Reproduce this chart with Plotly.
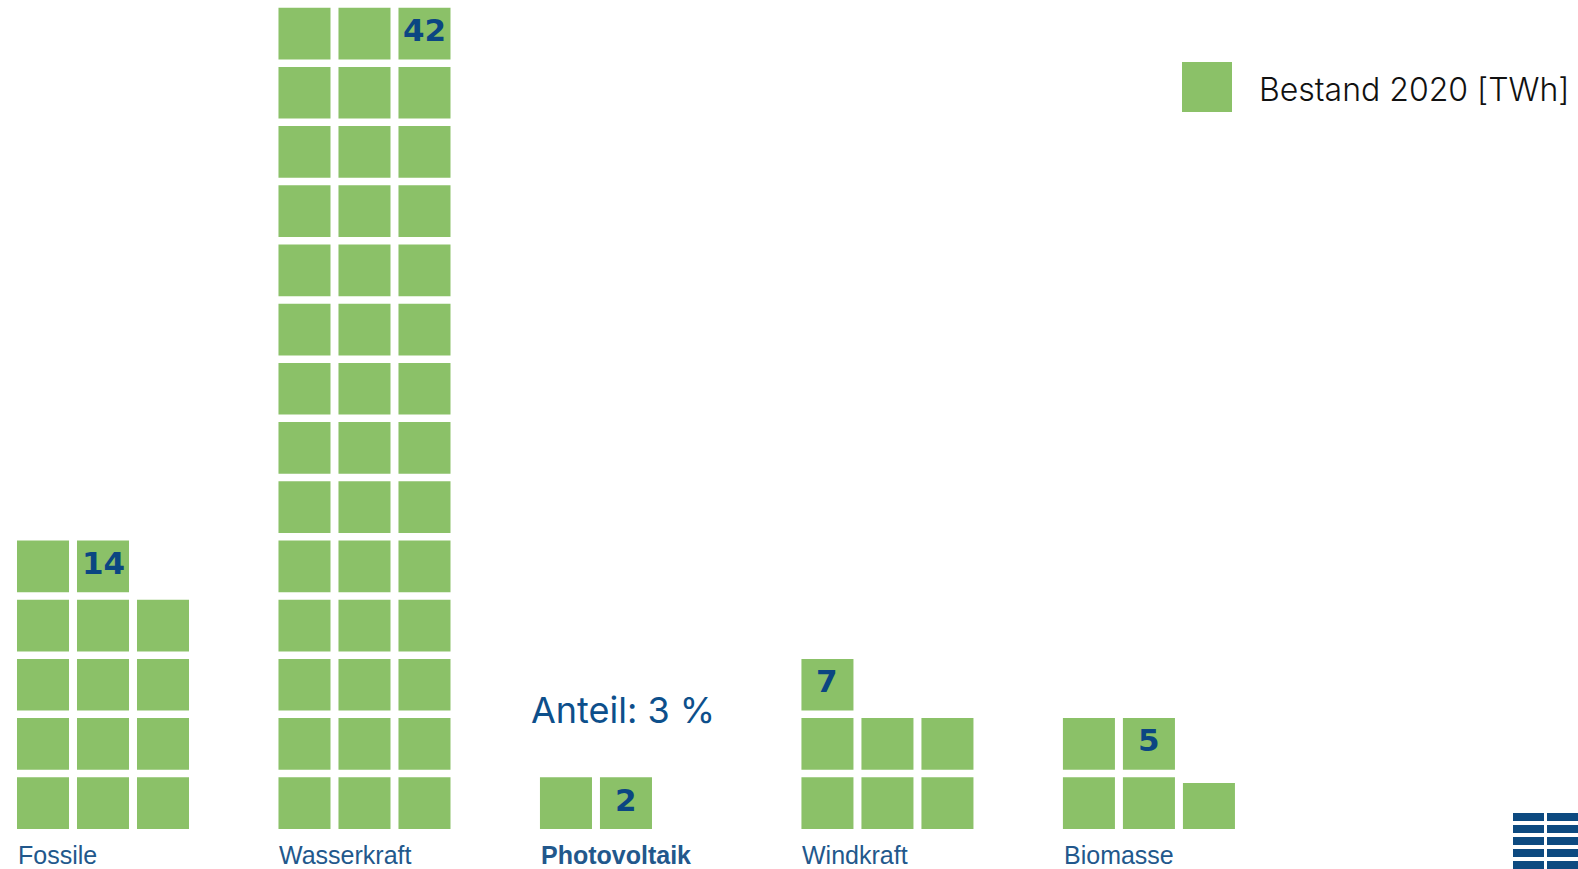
import plotly.graph_objects as go

# ---------------- data ----------------
categories = ["Fossile", "Wasserkraft", "Photovoltaik", "Windkraft", "Biomasse"]
values = [14, 42, 2, 7, 5]            # TWh, Bestand 2020 (one square = 1 TWh)
partial_slot = [None, None, None, None, 2]   # slot holding a partially filled square
partial_frac = [1.0, 1.0, 1.0, 1.0, 0.89]
bold_category = "Photovoltaik"
share_text = "Anteil: 3 %"
share_category = "Photovoltaik"
legend_text = "Bestand 2020 [TWh]"

# ---------------- styling ----------------
GREEN = "#8bc168"
LABEL_BLUE = "#22588c"
VALUE_BLUE = "#0b4682"
COLS = 3
CAT_GAP = 4.358      # distance between category groups in column units
SQ_W = 0.867         # square width in column units
SQ_H = 0.873         # square height in row units

xs, bases, heights = [], [], []
annotations = []
for i, (cat, v) in enumerate(zip(categories, values)):
    off = i * CAT_GAP
    for k in range(v):
        row, col = divmod(k, COLS)
        frac = partial_frac[i] if partial_slot[i] == k else 1.0
        xs.append(off + col)
        bases.append(row)
        heights.append(SQ_H * frac)
    # value label in last square
    row, col = divmod(v - 1, COLS)
    annotations.append(dict(
        x=off + col, y=row + SQ_H / 2 + 0.06, xref="x", yref="y",
        text=f"<b>{v}</b>", showarrow=False, xanchor="center", yanchor="middle",
        font=dict(family="DejaVu Sans", size=31, color=VALUE_BLUE)))
    # category label
    txt = f"<b>{cat}</b>" if cat == bold_category else cat
    annotations.append(dict(
        x=off - SQ_W / 2 - 0.02, y=-0.44, xref="x", yref="y",
        text=txt, showarrow=False, xanchor="left", yanchor="middle",
        font=dict(family="Liberation Sans", size=25, color=LABEL_BLUE)))
    if cat == share_category:
        annotations.append(dict(
            x=off - 0.62, y=2.005, xref="x", yref="y",
            text=share_text, showarrow=False, xanchor="left", yanchor="middle",
            font=dict(family="Inter", size=36, color="#0d4f8b")))

fig = go.Figure(go.Bar(
    x=xs, y=heights, base=bases, width=[SQ_W] * len(xs),
    marker=dict(color=GREEN, line=dict(width=0)),
    hoverinfo="skip", showlegend=False))

# legend (drawn manually, big swatch)
W, H = 1578, 869
shapes = [dict(type="rect", xref="paper", yref="paper",
               x0=1182 / W, x1=1232 / W, y0=1 - 112 / H, y1=1 - 62 / H,
               fillcolor=GREEN, line=dict(width=0), layer="above")]
annotations.append(dict(
    x=1257 / W, y=1 - 90 / H, xref="paper", yref="paper", text=legend_text,
    showarrow=False, xanchor="left", yanchor="middle",
    font=dict(family="Inter", size=32, color="#111111", weight=300)))

# logo fragment bottom-right
for (x0, x1) in [(1513, 1544), (1547, 1580)]:
    for y0 in [813, 825, 837, 849, 861]:
        shapes.append(dict(type="rect", xref="paper", yref="paper",
                           x0=x0 / W, x1=x1 / W, y0=1 - (y0 + 8) / H, y1=1 - y0 / H,
                           fillcolor="#0d4a80", line=dict(width=0), layer="above"))

fig.update_layout(
    width=W, height=H, margin=dict(l=0, r=0, t=0, b=0),
    paper_bgcolor="white", plot_bgcolor="white",
    barmode="overlay", showlegend=False,
    xaxis=dict(range=[-0.7167, 25.583], visible=False, fixedrange=True),
    yaxis=dict(range=[-0.6757, 14.0034], visible=False, fixedrange=True),
    annotations=annotations, shapes=shapes,
)

fig.write_html("out.html", config={"displayModeBar": False})
